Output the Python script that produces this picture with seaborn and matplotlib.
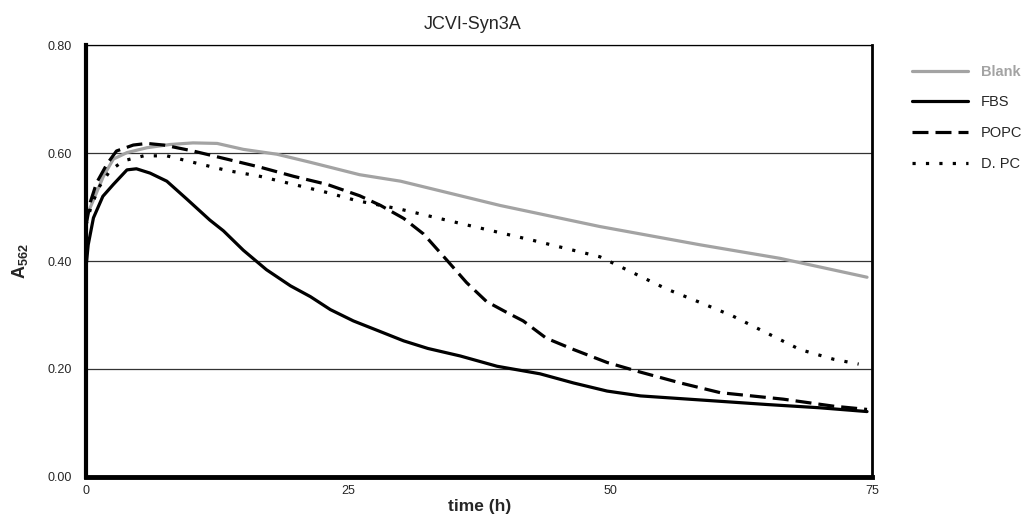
import pandas as pd
import seaborn as sns
import numpy as np
import matplotlib.pyplot as plt
from matplotlib.ticker import FormatStrFormatter

sns.set_style('white')
plt.rcParams['font.family'] = ['Liberation Sans', 'DejaVu Sans']
plt.rcParams['mathtext.fontset'] = 'custom'
plt.rcParams['mathtext.rm'] = 'Liberation Sans'
plt.rcParams['mathtext.bf'] = 'Liberation Sans:bold'

# values (time in h, absorbance at 562 nm)
blank_t = [0, 0.3, 1.0, 1.65, 2.6, 3.9, 5.8, 8.0, 10.2, 12.5, 15.0, 18.2, 21.4,
           26.1, 30.0, 39.5, 49.0, 58.6, 66.2, 74.5]
blank_y = [0.48, 0.495, 0.527, 0.557, 0.589, 0.601, 0.610, 0.616, 0.619, 0.618,
           0.607, 0.598, 0.583, 0.560, 0.548, 0.503, 0.464, 0.430, 0.405, 0.370]

fbs_t = [0, 0.2, 0.7, 1.6, 2.6, 3.9, 4.8, 6.1, 7.7, 9.6, 11.8, 13.1, 15.0, 17.2,
         19.5, 21.4, 23.3, 25.5, 28.1, 30.3, 32.6, 35.7, 39.2, 43.3, 46.5, 49.7,
         52.9, 56.7, 60.5, 65.0, 70.0, 74.5]
fbs_y = [0.39, 0.43, 0.48, 0.52, 0.542, 0.569, 0.571, 0.563, 0.548, 0.515, 0.476,
         0.456, 0.42, 0.384, 0.354, 0.334, 0.31, 0.289, 0.269, 0.252, 0.238, 0.224,
         0.205, 0.191, 0.174, 0.159, 0.150, 0.145, 0.140, 0.134, 0.128, 0.121]

popc_t = [0, 0.4, 1.0, 2.0, 2.9, 4.5, 5.8, 7.4, 10.2, 13.4, 16.6, 19.8, 23.0, 26.1,
          28.1, 30.3, 32.2, 34.4, 36.3, 38.2, 40.2, 41.7, 43.9, 46.5, 49.7, 52.9,
          56.7, 60.5, 66.5, 71.3, 74.5]
popc_y = [0.467, 0.509, 0.545, 0.580, 0.604, 0.615, 0.618, 0.615, 0.604, 0.589,
          0.574, 0.557, 0.542, 0.521, 0.503, 0.479, 0.450, 0.402, 0.360, 0.325,
          0.304, 0.289, 0.257, 0.236, 0.212, 0.194, 0.174, 0.156, 0.144, 0.131, 0.125]

dpc_t = [0, 0.5, 1.3, 2.3, 3.6, 5.5, 7.7, 10.2, 13.4, 16.6, 19.8, 23.0, 25.8, 30.0,
         36.3, 42.7, 49.0, 52.2, 55.4, 58.6, 61.7, 65.0, 68.1, 71.3, 73.7]
dpc_y = [0.467, 0.503, 0.539, 0.568, 0.586, 0.595, 0.595, 0.583, 0.568, 0.557,
         0.542, 0.527, 0.512, 0.496, 0.467, 0.438, 0.408, 0.378, 0.348, 0.323,
         0.298, 0.266, 0.236, 0.218, 0.209]

names = ['Blank', 'FBS', 'POPC', 'D. PC']
series = [(blank_t, blank_y), (fbs_t, fbs_y), (popc_t, popc_y), (dpc_t, dpc_y)]

df = pd.concat([pd.DataFrame({'time': t, 'A562': y, 'sample': n})
                for n, (t, y) in zip(names, series)], ignore_index=True)

palette = {'Blank': '#a3a3a3', 'FBS': 'black', 'POPC': 'black', 'D. PC': 'black'}
dashes = {'Blank': '', 'FBS': '', 'POPC': (5, 2.2), 'D. PC': (1, 3.2)}

fig = plt.figure(figsize=(10.25, 5.2), dpi=100)
ax = fig.add_axes([0.084, 0.083, 0.767, 0.83])

sns.lineplot(data=df, x='time', y='A562', hue='sample', style='sample',
             palette=palette, dashes=dashes, linewidth=2.3, ax=ax,
             hue_order=names, style_order=names, estimator=None)

ax.set_xlim(0, 75)
ax.set_ylim(0, 0.8)
ax.set_xticks([0, 25, 50, 75])
ax.set_yticks([0, 0.2, 0.4, 0.6, 0.8])
ax.yaxis.set_major_formatter(FormatStrFormatter('%.2f'))
ax.tick_params(labelsize=9, length=0)
ax.tick_params(axis='x', pad=6)
ax.tick_params(axis='y', pad=10)
ax.grid(axis='y', color='#333333', linewidth=0.9)
ax.set_axisbelow(True)

for side, w in [('left', 3), ('bottom', 3.5), ('right', 2), ('top', 0.9)]:
    ax.spines[side].set_visible(True)
    ax.spines[side].set_linewidth(w)
    ax.spines[side].set_color('black')

ax.set_title('JCVI-Syn3A', fontsize=13, pad=12, x=0.491)
ax.set_xlabel('time (h)', fontsize=12.5, fontweight='bold', labelpad=1)
ax.set_ylabel(r'$\mathbf{A}_{\mathbf{562}}$', fontsize=13, labelpad=13)

leg = ax.legend(loc='upper left', bbox_to_anchor=(1.051, 0.955), frameon=False,
                fontsize=10.5, handlelength=3.8, labelspacing=1.15,
                handletextpad=0.9, borderpad=0, borderaxespad=0)
for txt, n in zip(leg.get_texts(), names):
    if n == 'Blank':
        txt.set_color('#a3a3a3')
        txt.set_fontweight('bold')

fig.savefig('out.png', dpi=100)
